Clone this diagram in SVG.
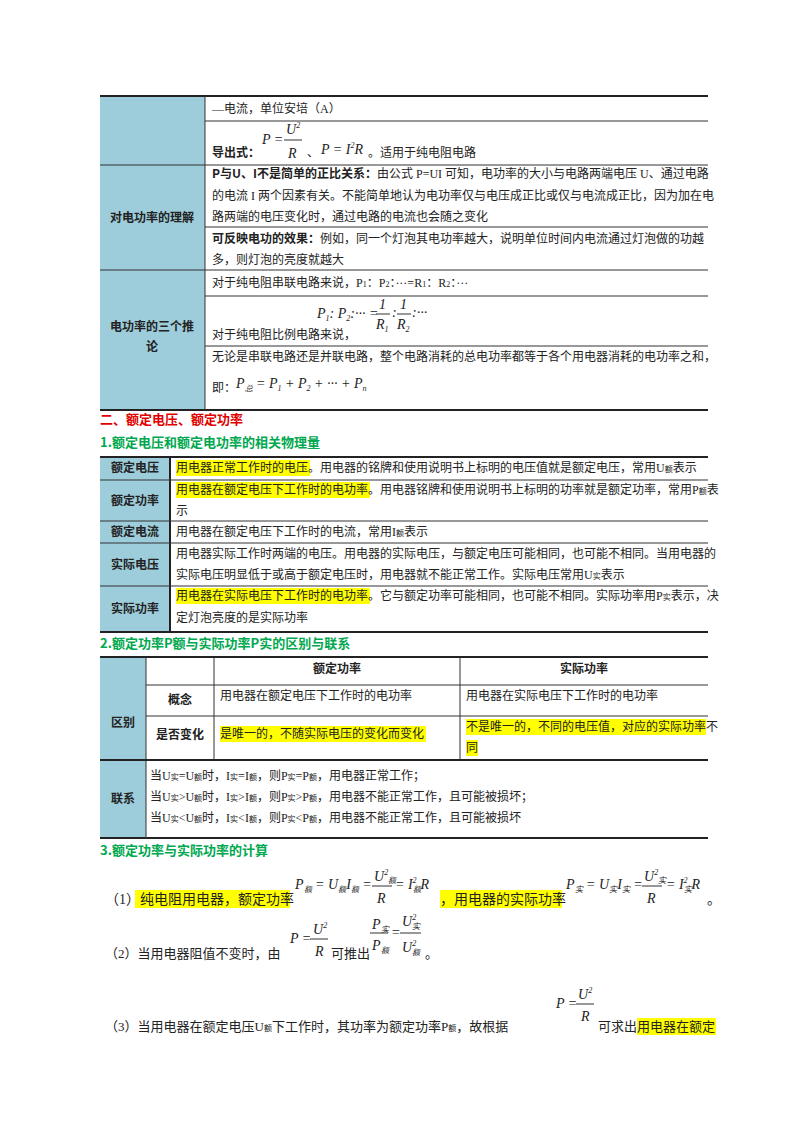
<svg xmlns="http://www.w3.org/2000/svg" width="800" height="1132" viewBox="0 0 800 1132">
<style>
text{font-family:"Liberation Serif","Noto Sans CJK SC",serif;font-size:12px;fill:#222}
.b{font-weight:bold;font-family:"Noto Sans CJK SC",sans-serif}
.m{font-family:"Liberation Serif",serif;font-style:italic;font-size:14px}
.s{font-size:8px}
.hl{fill:#FFFF00}
.lab{fill:#9DCCDB}
.ln{stroke:#333;stroke-width:1;fill:none}
.tk{stroke:#222;stroke-width:2;fill:none}
.red{fill:#E00000;font-size:13px}
.grn{fill:#00A84F;font-size:13px}
.big{font-size:14px}
.md{font-size:13px}
</style>
<rect width="800" height="1132" fill="#fff"/>

<g id="table1">
<rect class="lab" x="100" y="96" width="105" height="314"/>
<line class="tk" x1="100" y1="96" x2="708" y2="96"/>
<line class="tk" x1="100" y1="410" x2="708" y2="410"/>
<line class="ln" x1="205" y1="96" x2="205" y2="410"/>
<line class="ln" x1="205" y1="121" x2="708" y2="121"/>
<line class="ln" x1="100" y1="165" x2="708" y2="165"/>
<line class="ln" x1="205" y1="227" x2="708" y2="227"/>
<line class="ln" x1="100" y1="270" x2="708" y2="270"/>
<line class="ln" x1="205" y1="296" x2="708" y2="296"/>
<line class="ln" x1="205" y1="346" x2="708" y2="346"/>
<text x="212" y="113">—电流，单位安培（A）</text>
<text class="b" x="212" y="157">导出式：</text>
<text class="m" x="262" y="144">P =</text>
<text class="m" x="286" y="134">U<tspan class="s" dy="-6">2</tspan></text>
<line class="ln" x1="284" y1="140" x2="302" y2="140"/>
<text class="m" x="288" y="158">R</text>
<text x="307" y="157">、</text>
<text class="m" x="321" y="154">P = I<tspan class="s" dy="-6">2</tspan><tspan dy="6">R</tspan></text>
<text x="368" y="157">。适用于纯电阻电路</text>
<text x="212" y="178"><tspan class="b">P与U、I不是简单的正比关系：</tspan>由公式 P=UI 可知，电功率的大小与电路两端电压 U、通过电路</text>
<text x="212" y="200">的电流 I 两个因素有关。不能简单地认为电功率仅与电压成正比或仅与电流成正比，因为加在电</text>
<text x="212" y="221">路两端的电压变化时，通过电路的电流也会随之变化</text>
<text x="212" y="243"><tspan class="b">可反映电功的效果：</tspan>例如，同一个灯泡其电功率越大，说明单位时间内电流通过灯泡做的功越</text>
<text x="212" y="264">多，则灯泡的亮度就越大</text>
<text x="212" y="287">对于纯电阻串联电路来说，P<tspan class="s">1</tspan>：P<tspan class="s">2</tspan>：···=R<tspan class="s">1</tspan>：R<tspan class="s">2</tspan>：···</text>
<text class="m" x="317" y="318">P<tspan class="s" dy="3">1</tspan><tspan dy="-3">:  P</tspan><tspan class="s" dy="3">2</tspan><tspan dy="-3">:··· =</tspan></text>
<text class="m" x="379" y="309">1</text>
<line class="ln" x1="376" y1="314" x2="390" y2="314"/>
<text class="m" x="376" y="329">R<tspan class="s" dy="3">1</tspan></text>
<text class="m" x="392" y="317">:</text>
<text class="m" x="400" y="309">1</text>
<line class="ln" x1="397" y1="314" x2="411" y2="314"/>
<text class="m" x="397" y="329">R<tspan class="s" dy="3">2</tspan></text>
<text class="m" x="412" y="317">:···</text>
<text x="212" y="339">对于纯电阻比例电路来说，</text>
<text x="212" y="361">无论是串联电路还是并联电路，整个电路消耗的总电功率都等于各个用电器消耗的电功率之和，</text>
<text x="212" y="392">即：</text>
<text class="m" x="236" y="388">P<tspan class="s" dy="3">总</tspan><tspan dy="-3"> = P</tspan><tspan class="s" dy="3">1</tspan><tspan dy="-3"> + P</tspan><tspan class="s" dy="3">2</tspan><tspan dy="-3"> + ··· + P</tspan><tspan class="s" dy="3">n</tspan></text>
<text class="b" x="152" y="222" text-anchor="middle">对电功率的理解</text>
<text class="b" x="152" y="331" text-anchor="middle">电功率的三个推</text>
<text class="b" x="152" y="351" text-anchor="middle">论</text>
</g>

<text class="b red" x="100" y="424">二、额定电压、额定功率</text>
<text class="b grn" x="100" y="447">1.额定电压和额定电功率的相关物理量</text>

<g id="table2">
<rect class="lab" x="100" y="457" width="70" height="175"/>
<line class="tk" x1="100" y1="457" x2="708" y2="457"/>
<line class="tk" x1="100" y1="632" x2="708" y2="632"/>
<line class="tk" x1="170" y1="457" x2="170" y2="632"/>
<line class="ln" x1="100" y1="480" x2="708" y2="480"/>
<line class="ln" x1="100" y1="521" x2="708" y2="521"/>
<line class="ln" x1="100" y1="543" x2="708" y2="543"/>
<line class="ln" x1="100" y1="586" x2="708" y2="586"/>
<text class="b" x="135" y="472" text-anchor="middle">额定电压</text>
<text class="b" x="135" y="505" text-anchor="middle">额定功率</text>
<text class="b" x="135" y="536" text-anchor="middle">额定电流</text>
<text class="b" x="135" y="569" text-anchor="middle">实际电压</text>
<text class="b" x="135" y="613" text-anchor="middle">实际功率</text>
<rect class="hl" x="176" y="460" width="134" height="16"/>
<rect class="hl" x="176" y="482" width="194" height="16"/>
<rect class="hl" x="176" y="588" width="194" height="16"/>
<text x="176" y="472">用电器正常工作时的电压。用电器的铭牌和使用说明书上标明的电压值就是额定电压，常用U<tspan class="s">额</tspan>表示</text>
<text x="176" y="494">用电器在额定电压下工作时的电功率。用电器铭牌和使用说明书上标明的功率就是额定功率，常用P<tspan class="s">额</tspan>表</text>
<text x="176" y="515">示</text>
<text x="176" y="536">用电器在额定电压下工作时的电流，常用I<tspan class="s">额</tspan>表示</text>
<text x="176" y="558">用电器实际工作时两端的电压。用电器的实际电压，与额定电压可能相同，也可能不相同。当用电器的</text>
<text x="176" y="579">实际电压明显低于或高于额定电压时，用电器就不能正常工作。实际电压常用U<tspan class="s">实</tspan>表示</text>
<text x="176" y="600">用电器在实际电压下工作时的电功率。它与额定功率可能相同，也可能不相同。实际功率用P<tspan class="s">实</tspan>表示，决</text>
<text x="176" y="622">定灯泡亮度的是实际功率</text>
</g>

<text class="b grn" x="100" y="648">2.额定功率P额与实际功率P实的区别与联系</text>

<g id="table3">
<rect class="lab" x="100" y="657" width="46" height="181"/>
<line class="tk" x1="100" y1="657" x2="708" y2="657"/>
<line class="tk" x1="100" y1="838" x2="708" y2="838"/>
<line class="ln" x1="146" y1="657" x2="146" y2="838"/>
<line class="ln" x1="214" y1="657" x2="214" y2="760"/>
<line class="ln" x1="460" y1="657" x2="460" y2="760"/>
<line class="ln" x1="146" y1="685" x2="708" y2="685"/>
<line class="ln" x1="146" y1="716" x2="708" y2="716"/>
<line class="tk" x1="100" y1="760" x2="708" y2="760"/>
<text class="b" x="337" y="673" text-anchor="middle">额定功率</text>
<text class="b" x="584" y="673" text-anchor="middle">实际功率</text>
<text class="b" x="180" y="704" text-anchor="middle">概念</text>
<text class="b" x="180" y="739" text-anchor="middle">是否变化</text>
<text class="b" x="123" y="727" text-anchor="middle">区别</text>
<text class="b" x="123" y="803" text-anchor="middle">联系</text>
<text x="220" y="700">用电器在额定电压下工作时的电功率</text>
<text x="466" y="700">用电器在实际电压下工作时的电功率</text>
<rect class="hl" x="220" y="726" width="206" height="16"/>
<text x="220" y="738">是唯一的，不随实际电压的变化而变化</text>
<rect class="hl" x="466" y="719" width="240" height="16"/>
<rect class="hl" x="466" y="740" width="12" height="16"/>
<text x="466" y="731">不是唯一的，不同的电压值，对应的实际功率不</text>
<text x="466" y="752">同</text>
<text x="150" y="780">当U<tspan class="s">实</tspan>=U<tspan class="s">额</tspan>时，I<tspan class="s">实</tspan>=I<tspan class="s">额</tspan>，则P<tspan class="s">实</tspan>=P<tspan class="s">额</tspan>，用电器正常工作；</text>
<text x="150" y="801">当U<tspan class="s">实</tspan>&gt;U<tspan class="s">额</tspan>时，I<tspan class="s">实</tspan>&gt;I<tspan class="s">额</tspan>，则P<tspan class="s">实</tspan>&gt;P<tspan class="s">额</tspan>，用电器不能正常工作，且可能被损坏；</text>
<text x="150" y="822">当U<tspan class="s">实</tspan>&lt;U<tspan class="s">额</tspan>时，I<tspan class="s">实</tspan>&lt;I<tspan class="s">额</tspan>，则P<tspan class="s">实</tspan>&lt;P<tspan class="s">额</tspan>，用电器不能正常工作，且可能被损坏</text>
</g>

<text class="b grn" x="100" y="855">3.额定功率与实际功率的计算</text>

<g id="calc">
<rect class="hl" x="135" y="890" width="155" height="18"/>
<text class="big" x="105" y="904">（1）纯电阻用电器，额定功率</text>
<text class="m" x="295" y="889">P<tspan class="s" dy="3">额</tspan><tspan dy="-3"> = U</tspan><tspan class="s" dy="3">额</tspan><tspan dy="-3">I</tspan><tspan class="s" dy="3">额</tspan><tspan dy="-3"> =</tspan></text>
<text class="m" x="374" y="881">U<tspan class="s" dy="-6">2</tspan><tspan class="s" dy="8">额</tspan></text>
<line class="ln" x1="372" y1="886" x2="392" y2="886"/>
<text class="m" x="377" y="903">R</text>
<text class="m" x="395" y="889">= I<tspan class="s" dy="-6">2</tspan><tspan class="s" dx="-4" dy="9">额</tspan><tspan dy="-3">R</tspan></text>
<rect class="hl" x="440" y="890" width="122" height="18"/>
<text class="big" x="440" y="904">，用电器的实际功率</text>
<text class="m" x="566" y="889">P<tspan class="s" dy="3">实</tspan><tspan dy="-3"> = U</tspan><tspan class="s" dy="3">实</tspan><tspan dy="-3">I</tspan><tspan class="s" dy="3">实</tspan><tspan dy="-3"> =</tspan></text>
<text class="m" x="644" y="881">U<tspan class="s" dy="-6">2</tspan><tspan class="s" dy="8">实</tspan></text>
<line class="ln" x1="642" y1="886" x2="662" y2="886"/>
<text class="m" x="647" y="903">R</text>
<text class="m" x="666" y="889">= I<tspan class="s" dy="-6">2</tspan><tspan class="s" dx="-4" dy="9">实</tspan><tspan dy="-3">R</tspan></text>
<text class="big" x="707" y="904">。</text>

<text class="md" x="105" y="958">（2）当用电器阻值不变时，由</text>
<text class="m" x="290" y="943">P =</text>
<text class="m" x="313" y="934">U<tspan class="s" dy="-6">2</tspan></text>
<line class="ln" x1="310" y1="939" x2="328" y2="939"/>
<text class="m" x="315" y="956">R</text>
<text class="md" x="331" y="958">可推出</text>
<text class="m" x="372" y="929">P<tspan class="s" dy="3">实</tspan></text>
<line class="ln" x1="370" y1="933" x2="388" y2="933"/>
<text class="m" x="372" y="950">P<tspan class="s" dy="3">额</tspan></text>
<text class="m" x="391" y="937">=</text>
<text class="m" x="402" y="926">U<tspan class="s" dy="-6">2</tspan><tspan class="s" dx="-4" dy="9">实</tspan></text>
<line class="ln" x1="400" y1="933" x2="421" y2="933"/>
<text class="m" x="402" y="952">U<tspan class="s" dy="-6">2</tspan><tspan class="s" dx="-4" dy="9">额</tspan></text>
<text class="md" x="425" y="958">。</text>

<text class="md" x="105" y="1031">（3）当用电器在额定电压U<tspan class="s">额</tspan>下工作时，其功率为额定功率P<tspan class="s">额</tspan>，故根据</text>
<text class="m" x="556" y="1008">P =</text>
<text class="m" x="578" y="999">U<tspan class="s" dy="-6">2</tspan></text>
<line class="ln" x1="576" y1="1004" x2="594" y2="1004"/>
<text class="m" x="581" y="1021">R</text>
<rect class="hl" x="637" y="1018" width="79" height="17"/>
<text class="md" x="598" y="1031">可求出用电器在额定</text>
</g>
</svg>
